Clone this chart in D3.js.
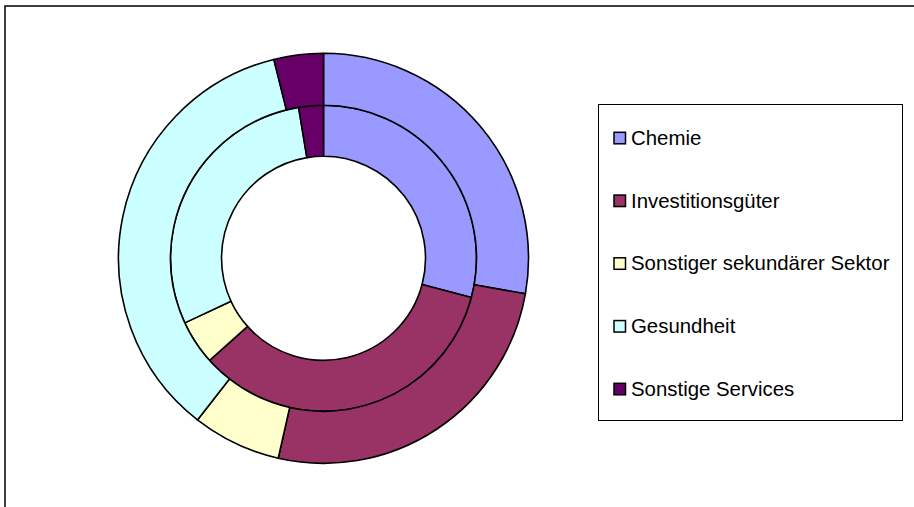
<!DOCTYPE html>
<html>
<head>
<meta charset="utf-8">
<script src="https://cdn.jsdelivr.net/npm/d3@7"></script>
<style>
  body { margin: 0; background: #fff; }
  svg { display: block; }
</style>
</head>
<body>
<div id="container"></div>
<script>
var categories = ['Chemie', 'Investitionsgüter', 'Sonstiger sekundärer Sektor', 'Gesundheit', 'Sonstige Services']
var colors = ['#9999ff', '#993366', '#ffffcc', '#ccffff', '#660066']
// inner ring = first series, outer ring = second series (shares in %)
var innerValues = [29.1, 34.2, 4.7, 29.3, 2.6]
var outerValues = [27.8, 25.8, 7.0, 35.6, 3.9]

var width = 914, height = 507
var cx = 323.5, cy = 258.3

var svg = d3.select('#container').append('svg')
  .attr('width', width).attr('height', height)

// chart frame (runs off the right and bottom edges)
svg.append('rect')
  .attr('x', 5).attr('y', 6)
  .attr('width', width + 10).attr('height', height + 10)
  .attr('fill', '#fff').attr('stroke', '#000').attr('stroke-width', 1.5)

var pie = d3.pie().sort(null).value(function (d) { return d })

var color = d3.scaleOrdinal().domain(categories).range(colors)

var rings = [
  { values: innerValues, r0: 102, r1: 153 },
  { values: outerValues, r0: 153, r1: 205 }
]

var g = svg.append('g').attr('transform', 'translate(' + cx + ',' + cy + ')')

rings.forEach(function (ring) {
  var arc = d3.arc().innerRadius(ring.r0).outerRadius(ring.r1)
  g.append('g').selectAll('path')
    .data(pie(ring.values))
    .enter()
    .append('path')
    .attr('d', arc)
    .attr('fill', function (d, i) { return color(categories[i]) })
    .attr('stroke', '#000')
    .attr('stroke-width', 1.6)
    .attr('stroke-linejoin', 'round')
})

// legend
var legend = svg.append('g')
legend.append('rect')
  .attr('x', 598.5).attr('y', 104.5)
  .attr('width', 304).attr('height', 316)
  .attr('fill', '#fff').attr('stroke', '#000').attr('stroke-width', 1)

var rowY = d3.scalePoint().domain(categories).range([137.8, 388.8])

var item = legend.selectAll('g.item')
  .data(categories)
  .enter()
  .append('g')
  .attr('class', 'item')
  .attr('transform', function (d) { return 'translate(0,' + rowY(d) + ')' })

item.append('rect')
  .attr('x', 614).attr('y', -5.5)
  .attr('width', 11.5).attr('height', 11.5)
  .attr('fill', function (d) { return color(d) })
  .attr('stroke', '#000').attr('stroke-width', 1.5)

item.append('text')
  .attr('x', 631).attr('y', 7)
  .attr('font-family', 'Liberation Sans, Arial, sans-serif')
  .attr('font-size', 20.4)
  .attr('fill', '#000')
  .text(function (d) { return d })
</script>
</body>
</html>
